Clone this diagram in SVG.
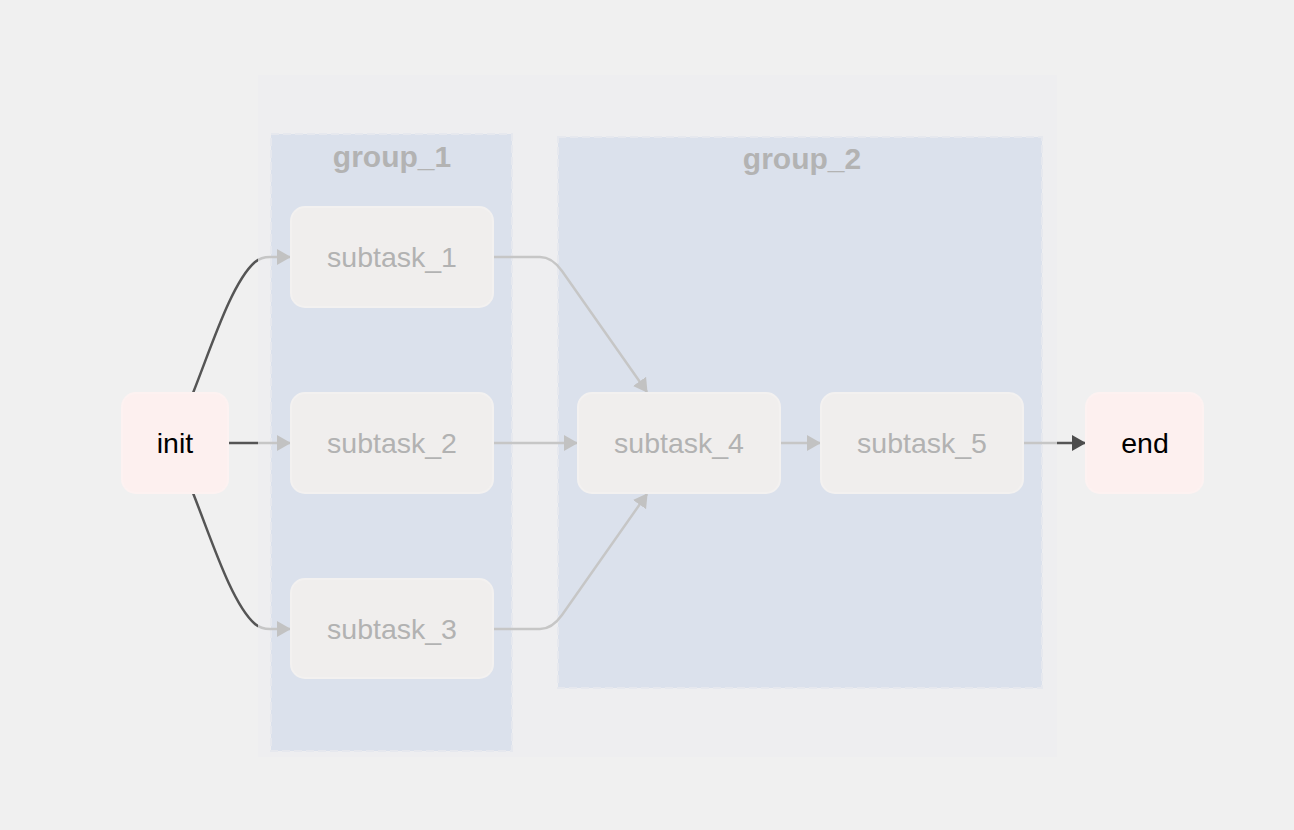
<svg xmlns="http://www.w3.org/2000/svg" width="1294" height="830" viewBox="0 0 1294 830">
<style>
.grp{fill:#dbe1ec;stroke:#e6e8ee;stroke-width:2;stroke-dasharray:8 4}
.gl{font-family:"Liberation Sans",Arial,sans-serif;font-size:30px;font-weight:bold;fill:#b3b3b3;text-anchor:middle}
.task rect{fill:#f0eeed;stroke:#f3f1f0;stroke-width:2}
.task text{font-family:"Liberation Sans",Arial,sans-serif;font-size:28.5px;fill:#b2b2b2;text-anchor:middle}
.term rect{fill:#fdf0ef;stroke:#fdf2f1;stroke-width:2}
.term text{font-family:"Liberation Sans",Arial,sans-serif;font-size:28.5px;fill:#000;text-anchor:middle}
.edge{fill:none;stroke:url(#eg);stroke-width:2.5}
</style>
<defs>
<linearGradient id="eg" gradientUnits="userSpaceOnUse" x1="0" y1="0" x2="1294" y2="0">
<stop offset="0" stop-color="#555"/>
<stop offset="0.19938" stop-color="#555"/>
<stop offset="0.19938" stop-color="#c6c6c6"/>
<stop offset="0.81685" stop-color="#c6c6c6"/>
<stop offset="0.81685" stop-color="#555"/>
<stop offset="1" stop-color="#555"/>
</linearGradient>
<marker id="ag" viewBox="0 0 14 16" refX="13" refY="8" markerWidth="14" markerHeight="16" markerUnits="userSpaceOnUse" orient="auto">
<path d="M0,0 L14,8 L0,16 Z" fill="#c2c2c2"/>
</marker>
<marker id="ad" viewBox="0 0 14 16" refX="13" refY="8" markerWidth="14" markerHeight="16" markerUnits="userSpaceOnUse" orient="auto">
<path d="M0,0 L14,8 L0,16 Z" fill="#4d4d4d"/>
</marker>
</defs>
<rect width="1294" height="830" fill="#f0f0f0"/>
<g id="container">
<rect x="258" y="75" width="799" height="682" fill="#eeeef0"/>
</g>
<g id="group_1">
<rect class="grp" x="271" y="134" width="241" height="617"/>
<text class="gl" x="392" y="167">group_1</text>
</g>
<g id="group_2">
<rect class="grp" x="558" y="137" width="484" height="551"/>
<text class="gl" x="802" y="169">group_2</text>
</g>
<g id="connectors">
<path class="edge" d="M193,393 C212,345 232,282 255,262 Q261,257 270,257 L290,257" marker-end="url(#ag)"/>
<path class="edge" d="M228,443 L290,443" marker-end="url(#ag)"/>
<path class="edge" d="M193,493 C212,541 232,604 255,624 Q261,629 270,629 L290,629" marker-end="url(#ag)"/>
<path class="edge" d="M493,257 L540,257 Q552,257 562,271 L647,392" marker-end="url(#ag)"/>
<path class="edge" d="M493,443 L577,443" marker-end="url(#ag)"/>
<path class="edge" d="M493,629 L540,629 Q552,629 562,615 L647,494" marker-end="url(#ag)"/>
<path class="edge" d="M780,443 L820,443" marker-end="url(#ag)"/>
<path class="edge" d="M1023,443 L1085,443" marker-end="url(#ad)"/>
</g>
<g id="init" class="term">
<rect x="122" y="393" width="106" height="100" rx="14"/>
<text x="175" y="453">init</text>
</g>
<g id="subtask_1" class="task">
<rect x="291" y="207" width="202" height="100" rx="14"/>
<text x="392" y="267">subtask_1</text>
</g>
<g id="subtask_2" class="task">
<rect x="291" y="393" width="202" height="100" rx="14"/>
<text x="392" y="453">subtask_2</text>
</g>
<g id="subtask_3" class="task">
<rect x="291" y="579" width="202" height="99" rx="14"/>
<text x="392" y="639">subtask_3</text>
</g>
<g id="subtask_4" class="task">
<rect x="578" y="393" width="202" height="100" rx="14"/>
<text x="679" y="453">subtask_4</text>
</g>
<g id="subtask_5" class="task">
<rect x="821" y="393" width="202" height="100" rx="14"/>
<text x="922" y="453">subtask_5</text>
</g>
<g id="end" class="term">
<rect x="1086" y="393" width="117" height="100" rx="14"/>
<text x="1145" y="453">end</text>
</g>
</svg>
